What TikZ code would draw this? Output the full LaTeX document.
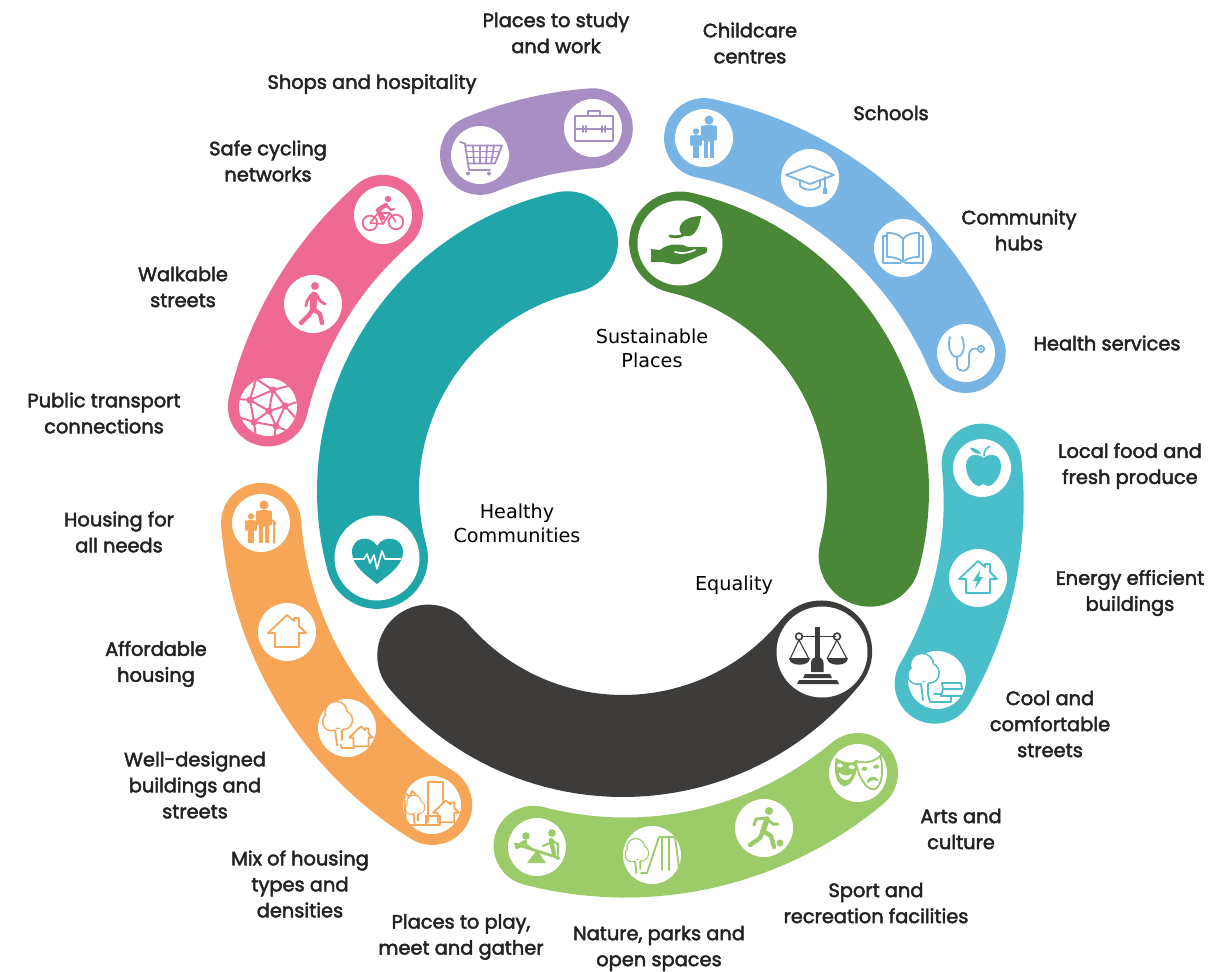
\documentclass[tikz,border=0pt]{standalone}
\usepackage{fontspec}
\setmainfont{Poppins}
\newfontfamily\labf{Poppins}[FakeBold=2.4]
\newfontfamily\coref{DejaVu Sans}
\definecolor{cpurple}{HTML}{A78FC4}
\definecolor{cblue}{HTML}{78B5E4}
\definecolor{ccyan}{HTML}{4ABFCA}
\definecolor{clime}{HTML}{9CCB6A}
\definecolor{corange}{HTML}{F6A656}
\definecolor{cpink}{HTML}{EE6A92}
\definecolor{cteal}{HTML}{20A6A8}
\definecolor{cgreen}{HTML}{4A8838}
\definecolor{cdark}{HTML}{3D3C3B}
\definecolor{ctext}{HTML}{222222}
\tikzset{
 band/.style={line width=80pt,line cap=round,line join=round},
 corearc/.style={line width=102pt,line cap=round},
 lab/.style={align=center,inner sep=0pt,text=ctext,font=\labf\fontsize{19.4}{26}\selectfont},
 corelab/.style={align=center,inner sep=0pt,text=black,font=\coref\fontsize{19.2}{24}\selectfont},
 ln/.style={draw=ic,line width=1.8pt,line join=round,line cap=round},
 thickl/.style={draw=ic,line width=4.4pt,line join=round,line cap=round},
}
\newcommand{\disc}[4]{\begin{scope}[shift={(#1,#2)}]\colorlet{ic}{#3}\fill[white] (0,0) circle (29pt); #4\end{scope}}
% band: colour, angle from, radius from, angle to, radius to
\newcommand{\arcband}[5]{\draw[band,#1] plot[domain=0:1,samples=40,variable=\t] ({623+(#3+(#5-#3)*\t)*cos(#2+(#4-#2)*\t)},{495-(#3+(#5-#3)*\t)*sin(#2+(#4-#2)*\t)});}
\newcommand{\corering}[3]{\draw[corearc,#1] plot[domain=#2:#3,samples=50,variable=\t] ({623+255*cos(\t)},{491-255*sin(\t)});}
\newcommand{\person}{%
 \fill[ic] (0,-20) circle (5pt);
 \fill[ic,rounded corners=2pt] (-5.5,-14.5) rectangle (5.5,4);
 \fill[ic] (-5.5,2) rectangle (-0.6,22);
 \fill[ic] (0.6,2) rectangle (5.5,22);
 \draw[ic,line width=3.4pt,line cap=round] (-6.8,-12) -- (-6.8,1);
 \draw[ic,line width=3.4pt,line cap=round] (6.8,-12) -- (6.8,1);
}
\newcommand{\family}{%
 \begin{scope}[shift={(5,0)},scale=.9]\person\end{scope}
 \begin{scope}[shift={(-8,6)},scale=.63]\person\end{scope}
}
\newcommand{\oldfamily}{%
 \begin{scope}[shift={(3,0)},scale=.9]\person\end{scope}
 \begin{scope}[shift={(-10,6)},scale=.63]\person\end{scope}
 \draw[ln] (11,-3) -- (15,1) (13,-1) -- (13,20);
}
\newcommand{\cart}{%
 \draw[ln] (-20,-13) -- (-15,-11.5) -- (-11,15) -- (10,15);
 \draw[ln] (-15,-9.5) -- (22,-9.5) -- (15,8.5) -- (-12.5,8.5);
 \draw[ln] (-14,-3.5) -- (19.5,-3.5) (-13,2.5) -- (17,2.5);
 \draw[ln] (-7,-9.5) -- (-6,8.5) (0,-9.5) -- (0,8.5) (7,-9.5) -- (6,8.5) (14,-9.5) -- (11,8.5);
 \fill[ic] (-12,18.5) circle (2pt) (9,18.5) circle (2pt);
}
\newcommand{\briefcase}{%
 \draw[ln] (-18,-12) rectangle (20,13);
 \draw[ln] (-5,-12) -- (-5,-17) -- (7,-17) -- (7,-12);
 \draw[ln] (-18,1) -- (20,1);
 \draw[ln] (-10,-2) -- (-10,4) (-7,-2) -- (-7,4) (9,-2) -- (9,4) (12,-2) -- (12,4);
}
\newcommand{\gradcap}{%
 \draw[ln] (-24,-3) -- (0,-12) -- (24,-3) -- (0,6) -- cycle;
 \draw[ln] (-10,2) -- (-10,8) .. controls (-5,13) and (5,13) .. (10,8) -- (10,2);
 \draw[ln] (15,-1) -- (15,10);
 \fill[ic] (13,10) rectangle (17,16);
}
\newcommand{\book}{%
 \draw[ln] (0,-9) .. controls (-5,-15) and (-11,-15) .. (-16,-15) -- (-16,9) .. controls (-10,9) and (-4,10) .. (0,14)
   .. controls (4,10) and (10,9) .. (16,9) -- (16,-15) .. controls (11,-15) and (5,-15) .. (0,-9) -- cycle;
 \draw[ln] (0,-9) -- (0,14);
 \draw[ln] (-16,-12) -- (-20,-12) -- (-20,15) -- (-2,15) (16,-12) -- (20,-12) -- (20,15) -- (2,15);
}
\newcommand{\stetho}{%
 \draw[ln] (-16,-16) .. controls (-19,-6) and (-15,4) .. (-9,4) .. controls (-3,4) and (0,-6) .. (-4,-16);
 \draw[ln] (-9,4) -- (-9,12) .. controls (-9,20) and (3,20) .. (3,11) -- (3,3) .. controls (3,-5) and (9,-5) .. (12,-4);
 \draw[ln] (15,-4) circle (3.2pt);
 \fill[ic] (15,-4) circle (1.3pt);
}
\newcommand{\apple}{%
 \fill[ic] (1.5,-10) .. controls (-4,-15) and (-16,-15) .. (-16,-2) .. controls (-16,9) and (-8,18) .. (-3,18)
   .. controls (-1,18) and (0,16) .. (1.5,16) .. controls (3,16) and (4,18) .. (6,18)
   .. controls (11,18) and (19,9) .. (19,-2) .. controls (19,-15) and (7,-15) .. (1.5,-10) -- cycle;
 \draw[ic,line width=1.6pt] (2,-12) .. controls (2,-17) and (4,-20) .. (8,-22);
 \fill[ic] (-12,-20) .. controls (-8,-21) and (-3,-18) .. (-1,-14) .. controls (-6,-14) and (-10,-16) .. (-12,-20) -- cycle;
}
\newcommand{\houseline}{%
 \draw[ln] (-19,1) -- (0,-17) -- (7,-11) -- (7,-14) -- (12,-14) -- (12,-6) -- (19,1) -- (12,1) -- (12,15) -- (-12,15) -- (-12,1) -- cycle;
}
\newcommand{\housebolt}{\houseline
 \fill[ic] (2,-8) -- (-5,3) -- (-1,3) -- (-3,11) -- (5,-1) -- (1,-1) -- cycle;
}
\newcommand{\treeblob}[3]{%
 \begin{scope}[shift={(#1,#2)},scale=#3]
 \fill[ic] (-3,-9) circle (12.5pt) (-8,1) circle (10pt) (4,-1) circle (11pt);
 \fill[white] (-3,-9) circle (10.8pt) (-8,1) circle (8.4pt) (4,-1) circle (9.4pt);
 \fill[white] (-4,8) rectangle (3,13);
 \draw[ln] (-4,10) -- (-2,26) (3,10) -- (3,20);
 \end{scope}
}
\newcommand{\treebench}{%
 \treeblob{-12}{-6}{1}
 \draw[ln] (-9,14) -- (-7,22) -- (14,22) -- (14,16);
 \draw[ln] (5,3) -- (24,3) -- (25,9) -- (6,9) -- cycle;
 \draw[ln] (6,9) -- (4,16) -- (26,16);
 \draw[ln] (-3,14) -- (4,14);
}
\newcommand{\smallhouse}[3]{%
 \begin{scope}[shift={(#1,#2)},scale=#3]\houseline\end{scope}
}
\newcommand{\treeshouse}{%
 \treeblob{-8}{-7}{.95}
 \smallhouse{14}{9}{.62}
 \draw[ln] (-6,17) -- (-5,20) -- (7,20);
}
\newcommand{\mixicon}{%
 \draw[ln] (-4,17) -- (-4,-23) -- (11,-23) -- (11,-2);
 \draw[ln] (-28,-13) -- (-22,-8) -- (-20,-14) -- (-15,-9);
 \draw[ln] (-28,-13) -- (-26,20) -- (0,20);
 \treeblob{-16}{3}{.62}
 \smallhouse{14}{7}{.68}
 \draw[ln] (-6,11) rectangle (8,20);
}
\newcommand{\seesaw}{%
 \draw[thickl,line width=2.8pt] (-22,-3) -- (22,11);
 \fill[ic] (0,3) -- (-10,16) -- (9,16) -- cycle;
 \fill[ic] (-11,-11) circle (3.8pt) (15,-14) circle (3.8pt);
 \draw[thickl] (-12,-5) -- (-20,0);
 \draw[thickl] (14,-7) -- (17,7);
 \draw[ic,line width=2.2pt,line cap=round,line join=round] (-13,-4) -- (-4,3) (15,-5) -- (6,-1) (17,8) -- (21,12) (14,-7) -- (21,-3) -- (21,8);
}
\newcommand{\parkicon}{%
 \treeblob{-14}{-1}{.75}
 \draw[ln] (-11,18) -- (-5,18) -- (7,-18) -- (23,-18) -- (27,13);
 \draw[ln] (10,-18) -- (10,15) (17,-18) -- (17,15);
}
\newcommand{\runner}{%
 \fill[ic] (5,-17) circle (4pt) (16,15) circle (3.5pt);
 \draw[thickl,line width=5.5pt] (3,-9) -- (-1,3);
 \draw[ic,line width=3pt,line cap=round,line join=round] (3,-10) -- (-8,-9) -- (-10,-3) (3,-9) -- (9,-4) -- (14,-4);
 \draw[thickl] (-1,3) -- (-4,10) -- (-14,17) (-1,3) -- (7,8) -- (10,19);
}
\newcommand{\masks}{%
 \fill[ic,rotate=-8] (-24,-12) .. controls (-16,-8) and (-7,-8) .. (-2,-13) .. controls (0,2) and (-5,14) .. (-12,15) .. controls (-20,14) and (-25,2) .. (-24,-12) -- cycle;
 \fill[white,rotate=-8] (-19,-5) ellipse (3pt and 2pt) (-7,-5) ellipse (3pt and 2pt);
 \fill[white,rotate=-8] (-19,2) .. controls (-15,5) and (-10,5) .. (-6,2) .. controls (-7,11) and (-17,11) .. (-19,2) -- cycle;
 \begin{scope}[rotate=10]
 \fill[white] (0,-12) .. controls (8,-8) and (18,-8) .. (25,-13) .. controls (26,3) and (21,18) .. (13,19) .. controls (5,18) and (-1,3) .. (0,-12) -- cycle;
 \draw[ic,line width=1.8pt] (0,-12) .. controls (8,-8) and (18,-8) .. (25,-13) .. controls (26,3) and (21,18) .. (13,19) .. controls (5,18) and (-1,3) .. (0,-12) -- cycle;
 \fill[ic] (7,-3) ellipse (3pt and 2pt) (19,-3) ellipse (3pt and 2pt);
 \fill[ic] (7,12) .. controls (8,4) and (18,4) .. (19,12) .. controls (15,9) and (11,9) .. (7,12) -- cycle;
 \end{scope}
}
\newcommand{\walker}{%
 \fill[ic] (2,-18) circle (4pt);
 \draw[thickl,line width=7pt] (1,-9) -- (0,4);
 \draw[ic,line width=2.8pt,line cap=round,line join=round] (3,-10) -- (7,-3) -- (12,0) (-2,-9) -- (-6,-3) -- (-7,2);
 \draw[thickl] (0,5) -- (-4,11) -- (-12,19) (0,5) -- (7,10) -- (9,19);
}
\newcommand{\bike}{%
 \draw[ic,line width=1.8pt] (-13,8) circle (7.3pt) (13,7) circle (7.3pt);
 \draw[ic,line width=1.6pt,line join=round] (-13,8) -- (-5,-2) -- (7,-2) -- (13,7) (-5,-2) -- (0,9) -- (7,-2) (0,9) -- (-13,8);
 \fill[ic] (5,-16) circle (3.2pt);
 \draw[ic,line width=4.4pt,line cap=round,line join=round] (3,-10) -- (-5,-5) -- (0,3);
 \draw[ic,line width=2.2pt,line cap=round,line join=round] (3,-10) -- (8,-5) -- (11,-6);
}
\newcommand{\network}{%
 \begin{scope}
 \clip (0,0) circle (29pt);
 \draw[ic,line width=2pt]
  (-18,-7) -- (5,-17) -- (17,-1) -- (1,4) -- (-18,-7) -- (-14,15) -- (1,4) -- (8,19) -- (17,-1)
  (5,-17) -- (1,4) (-14,15) -- (8,19)
  (-18,-7) -- (-30,-8) (-18,-7) -- (-12,-28) (5,-17) -- (-12,-28) (5,-17) -- (24,-22) (17,-1) -- (32,-6) (17,-1) -- (30,14)
  (8,19) -- (24,26) (8,19) -- (6,32) (-14,15) -- (-30,10) (-14,15) -- (-12,30);
 \end{scope}
 \fill[ic] (-18,-7) circle (3.6pt) (5,-17) circle (3.6pt) (17,-1) circle (3.6pt) (1,4) circle (3.6pt) (-14,15) circle (3.6pt) (8,19) circle (3.6pt);
}
\begin{document}
\begin{tikzpicture}[x=1pt,y=-1pt]
\useasboundingbox (0,0) rectangle (1208,972);
% outer bands
\arcband{cpurple}{112.8}{369}{94.7}{368}
\arcband{cblue}{77.2}{366}{22.5}{371}
\arcband{ccyan}{5}{360}{-31.2}{364.4}
\arcband{clime}{-49.8}{364}{-104.3}{362}
\arcband{corange}{184.4}{363}{238.4}{364}
\arcband{cpink}{130.6}{369}{166}{366}
% inner ring
\corering{cteal}{102.7}{195.2}
\corering{cgreen}{77.05}{-14.7}
\corering{cdark}{-39}{-139.8}
% icons
\disc{593}{128}{cpurple}{\briefcase}
\disc{480}{155}{cpurple}{\cart}
\disc{704}{138}{cblue}{\family}
\disc{810}{178}{cblue}{\gradcap}
\disc{903}{248}{cblue}{\book}
\disc{966}{353}{cblue}{\stetho}
\disc{982}{468}{ccyan}{\apple}
\disc{978}{578}{ccyan}{\housebolt}
\disc{937}{680}{ccyan}{\treebench}
\disc{858}{773}{clime}{\masks}
\disc{764}{828}{clime}{\runner}
\disc{652}{855}{clime}{\parkicon}
\disc{537}{847}{clime}{\seesaw}
\disc{261}{523}{corange}{\oldfamily}
\disc{287}{632}{corange}{\houseline}
\disc{347}{728}{corange}{\treeshouse}
\disc{432}{805}{corange}{\mixicon}
\disc{383}{215}{cpink}{\bike}
\disc{313}{304}{cpink}{\walker}
\disc{268}{407}{cpink}{\network}
% core icons
\begin{scope}[shift={(680,243)}]
 \fill[white] (0,0) circle (42.5pt);
 \colorlet{ic}{cgreen}
 \fill[ic] (21,-27) .. controls (8,-27) and (-3,-20) .. (0,-11) .. controls (6,-3) and (18,-5) .. (21,-27) -- cycle;
 \draw[ic,line width=2.8pt,line cap=round] (-10,-7) .. controls (-2,-5) and (4,-7) .. (9,-12);
 \fill[ic] (-29,6) -- (-20,7) .. controls (-12,1) and (-6,1) .. (3,2) -- (8,4) -- (24,4) .. controls (28,3) and (28,8) .. (26,10)
   -- (3,20) .. controls (-5,23) and (-10,20) .. (-18,19) -- (-29,19) -- cycle;
 \draw[white,line width=1.7pt,line cap=round] (-5,9) .. controls (2,11) and (8,10) .. (15,7);
\end{scope}
\begin{scope}[shift={(377,558)}]
 \fill[white] (0,0) circle (42.5pt);
 \colorlet{ic}{cteal}
 \fill[ic] (0,26) .. controls (-10,18) and (-25,8) .. (-25,-6) .. controls (-25,-21) and (-7,-24) .. (0,-12) .. controls (7,-24) and (26,-21) .. (26,-6) .. controls (26,8) and (10,18) .. (0,26) -- cycle;
 \draw[white,line width=1.7pt,line join=round] (-24,1) -- (-13,1) -- (-10,-4) -- (-7,5) -- (-3,-3) -- (0,11) -- (5,-7) -- (8,1) -- (24,1);
\end{scope}
\begin{scope}[shift={(822,652)}]
 \fill[white] (0,0) circle (45.5pt);
 \colorlet{ic}{cdark}
 \fill[ic] (-7,-25) rectangle (-2.5,8);
 \fill[ic] (-11,20) -- (-11,11) .. controls (-11,3) and (1.5,3) .. (1.5,11) -- (1.5,20) -- cycle;
 \draw[ic,line width=1.8pt] (-19,-15.5) -- (14,-15.5);
 \draw[ic,line width=1.6pt] (-23,-15.5) circle (3.4pt) (15,-15.5) circle (3.4pt);
 \draw[ic,line width=1.1pt] (-23,-12) -- (-32,7) (-23,-12) -- (-13,7) (15,-12) -- (5,7) (15,-12) -- (25,7);
 \fill[ic] (-33,6) -- (-12,6) .. controls (-12,15) and (-33,15) .. (-33,6) -- cycle;
 \fill[ic] (5,6) -- (26,6) .. controls (26,15) and (5,15) .. (5,6) -- cycle;
 \fill[ic] (-17,22) -- (8,22) -- (10,26) -- (-19,26) -- cycle;
 \fill[ic] (-23,28) -- (15,28) -- (17,32) -- (-25,32) -- cycle;
\end{scope}
% labels
\node[lab] (a1) at (556,33) {Places to study\\and work};
\node[lab] (a2) at (750,43) {Childcare\\centres};
\node[lab] (a3) at (891,113) {Schools};
\node[lab] (a4) at (1019,230) {Community\\hubs};
\node[lab] (a5) at (1107,343) {Health services};
\node[lab] (a6) at (1130,466) {Local food and\\fresh produce};
\node[lab] (a7) at (1130,593) {Energy efficient\\buildings};
\node[lab] (a8) at (1050,724) {Cool and\\comfortable\\streets};
\node[lab] (a9) at (961,829) {Arts and\\culture};
\node[lab] (a10) at (876,903) {Sport and\\recreation facilities};
\node[lab] (a11) at (659,948.5) {Nature, parks and\\open spaces};
\node[lab] (a12) at (461,937) {Places to play,\\meet and gather};
\node[lab] (a13) at (300,884) {Mix of housing\\types and\\densities};
\node[lab] (a14) at (195,785) {Well-designed\\buildings and\\streets};
\node[lab] (a15) at (156,664) {Affordable\\housing};
\node[lab] (a16) at (119,532) {Housing for\\all needs};
\node[lab] (a17) at (104,413) {Public transport\\connections};
\node[lab] (a18) at (183,287) {Walkable\\streets};
\node[lab] (a19) at (268,161) {Safe cycling\\networks};
\node[lab] (a20) at (372,84) {Shops and hospitality};
\node[corelab] (c1) at (652,348) {Sustainable\\Places};
\node[corelab] (c2) at (517,523) {Healthy\\Communities};
\node[corelab] (c3) at (734,585) {Equality};
\end{tikzpicture}
\end{document}
